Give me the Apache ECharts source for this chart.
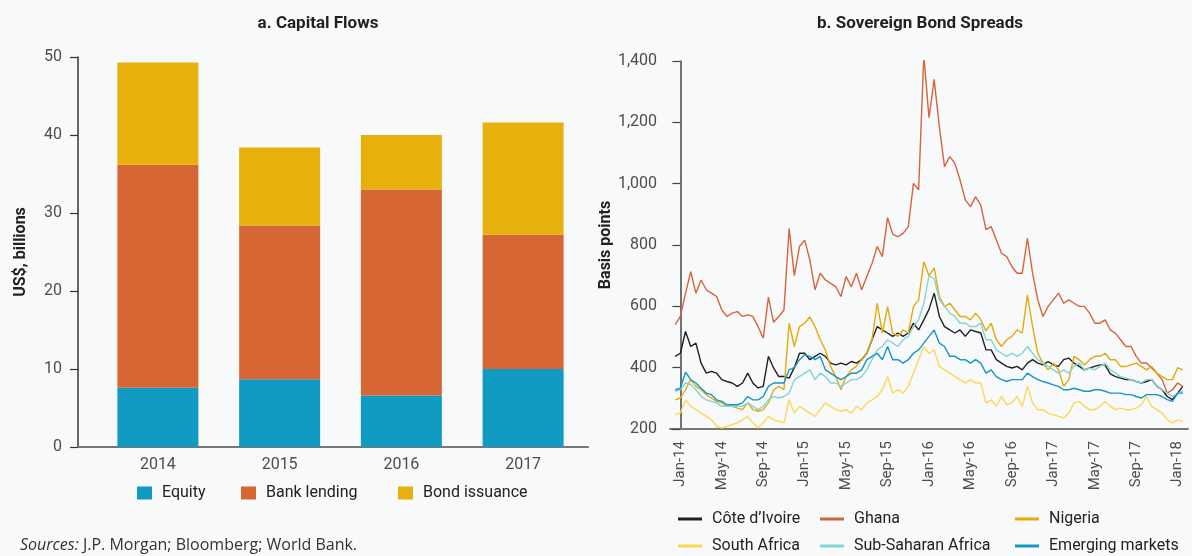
<!DOCTYPE html>
<html>
<head>
<meta charset="utf-8">
<title>Capital Flows and Sovereign Bond Spreads</title>
<script src="https://cdn.jsdelivr.net/npm/echarts@6.0.0/dist/echarts.min.js"></script>
<style>
  html, body { margin: 0; padding: 0; background: #f7f9fb; }
  #chart { width: 1192px; height: 556px; }
</style>
</head>
<body>
<div id="chart"></div>
<script>
// panel a: capital flows, US$ billions
const years = ['2014', '2015', '2016', '2017'];
const equity = [7.6, 8.7, 6.6, 10.0];
const bankLending = [28.6, 19.7, 26.4, 17.2];
const bondIssuance = [13.1, 10.0, 7.0, 14.4];

// panel b: sovereign bond spreads, basis points
// one value every half month, first one at mid-December 2013 (month -0.5, 0 = Jan-14)
const firstMonth = -0.5;
const monthStep = 0.5;
const tickMonths = [0, 4, 8, 12, 16, 20, 24, 28, 32, 36, 40, 44, 48];
const tickNames = ['Jan', 'May', 'Sep'];

const coteDIvoire = [
  437, 447, 518, 469, 480, 415, 382, 388, 382, 361,
  355, 350, 339, 350, 382, 350, 334, 339, 437, 399,
  371, 371, 366, 400, 447, 447, 426, 437, 447, 437,
  415, 409, 415, 409, 420, 415, 426, 447, 491, 534,
  523, 513, 502, 513, 502, 513, 545, 523, 556, 590,
  643, 567, 534, 523, 513, 523, 502, 523, 518, 513,
  458, 458, 426, 415, 404, 399, 404, 393, 415, 426,
  415, 409, 420, 409, 404, 426, 431, 415, 404, 393,
  399, 404, 409, 409, 380, 371, 366, 361, 361, 355,
  350, 355, 361, 339, 328, 306, 296, 317, 339
];
const ghana = [
  540, 567, 643, 713, 643, 686, 654, 643, 632, 588,
  567, 578, 583, 567, 572, 567, 534, 496, 630, 548,
  567, 588, 854, 700, 795, 816, 751, 654, 708, 686,
  675, 664, 632, 697, 664, 708, 654, 697, 740, 795,
  762, 889, 835, 827, 838, 860, 1001, 980, 1418, 1215,
  1340, 1185, 1055, 1088, 1066, 1012, 947, 925, 957, 930,
  850, 860, 816, 773, 762, 730, 708, 708, 822, 708,
  621, 567, 600, 621, 643, 610, 621, 610, 600, 600,
  578, 545, 545, 556, 523, 512, 491, 469, 469, 437,
  415, 415, 399, 382, 361, 317, 328, 350, 339
];
const nigeria = [
  295, 301, 328, 361, 339, 328, 312, 301, 290, 285,
  274, 274, 268, 263, 285, 263, 258, 263, 285, 328,
  339, 328, 545, 469, 534, 545, 565, 534, 491, 458,
  404, 371, 328, 371, 393, 404, 426, 447, 491, 610,
  513, 599, 513, 502, 523, 513, 599, 621, 745, 700,
  725, 632, 599, 610, 589, 567, 567, 556, 578, 556,
  520, 545, 491, 469, 491, 502, 523, 513, 637, 534,
  447, 415, 393, 415, 393, 339, 361, 437, 426, 409,
  426, 437, 437, 447, 426, 426, 404, 404, 409, 415,
  404, 393, 404, 382, 371, 361, 361, 400, 393
];
const southAfrica = [
  247, 252, 295, 274, 263, 252, 241, 230, 209, 203,
  209, 214, 220, 230, 241, 220, 203, 220, 241, 230,
  225, 220, 295, 252, 274, 263, 252, 241, 263, 285,
  274, 263, 258, 263, 252, 274, 263, 285, 295, 306,
  328, 371, 317, 328, 317, 339, 382, 426, 469, 447,
  458, 404, 393, 382, 371, 361, 350, 361, 350, 350,
  285, 295, 274, 306, 279, 285, 306, 274, 339, 285,
  263, 263, 252, 247, 241, 236, 252, 285, 290, 274,
  263, 263, 274, 290, 274, 263, 268, 263, 263, 268,
  279, 306, 274, 263, 252, 230, 220, 230, 225
];
const subSaharanAfrica = [
  323, 328, 350, 345, 328, 306, 295, 290, 285, 274,
  274, 274, 274, 274, 285, 274, 263, 274, 295, 306,
  301, 306, 317, 361, 371, 382, 393, 361, 382, 371,
  350, 350, 339, 350, 361, 361, 371, 393, 426, 458,
  469, 491, 480, 469, 491, 502, 534, 556, 610, 700,
  690, 621, 600, 578, 567, 545, 545, 534, 534, 545,
  491, 491, 458, 447, 437, 447, 437, 447, 469, 447,
  426, 415, 404, 393, 382, 393, 382, 404, 415, 393,
  399, 393, 404, 415, 393, 382, 371, 366, 361, 355,
  350, 361, 361, 339, 328, 317, 306, 317, 323
];
const emergingMarkets = [
  328, 333, 385, 361, 350, 333, 317, 312, 295, 290,
  279, 279, 279, 285, 306, 295, 295, 306, 339, 350,
  350, 350, 393, 400, 426, 442, 437, 426, 437, 393,
  382, 371, 361, 371, 382, 382, 393, 426, 437, 447,
  426, 469, 426, 426, 415, 426, 447, 458, 480, 502,
  523, 480, 469, 437, 437, 426, 426, 415, 426, 415,
  382, 393, 371, 361, 355, 361, 361, 361, 382, 371,
  361, 355, 350, 344, 339, 328, 328, 333, 328, 323,
  323, 328, 328, 323, 317, 317, 317, 312, 312, 306,
  301, 312, 312, 312, 306, 296, 290, 317, 317
];

const FONT = 'Roboto, sans-serif';
const LABEL = { color: '#4d4d4d', fontFamily: FONT, fontSize: 16 };
const NAME = { fontFamily: FONT, fontSize: 16, fontWeight: 'bold', color: '#222' };
const TITLE = { fontFamily: FONT, fontSize: 17, fontWeight: 'bold', color: '#231f20' };
const LEGEND_TEXT = { color: '#222', fontFamily: FONT, fontSize: 16, lineHeight: 18, padding: [0, 0, 0, 5] };

// pair each reading with its month on the time axis
function byMonth(values) {
  return values.map((v, i) => [firstMonth + i * monthStep, v]);
}

function barLegend(name, left) {
  return {
    data: [name], left: left, top: 484, padding: 0, icon: 'rect',
    itemWidth: 15, itemHeight: 13, textStyle: LEGEND_TEXT, selectedMode: false
  };
}

function lineLegend(names, left) {
  return {
    data: names, left: left, top: 510, padding: 0, orient: 'vertical', itemGap: 9, icon: 'rect',
    itemWidth: 24, itemHeight: 3, textStyle: LEGEND_TEXT, selectedMode: false
  };
}

const lines = [
  ['Côte d\u2019Ivoire', coteDIvoire, '#231f20'],
  ['Ghana', ghana, '#d6643a'],
  ['Nigeria', nigeria, '#e5a90a'],
  ['South Africa', southAfrica, '#fdd853'],
  ['Sub-Saharan Africa', subSaharanAfrica, '#86d3d3'],
  ['Emerging markets', emergingMarkets, '#1597c3']
];

const bars = [
  ['Equity', equity, '#119ac2'],
  ['Bank lending', bankLending, '#d66735'],
  ['Bond issuance', bondIssuance, '#e6b00d']
];

const chart = echarts.init(document.getElementById('chart'), null, { renderer: 'canvas' });

chart.setOption({
  animation: false,
  backgroundColor: '#f7f9fb',
  title: [
    { text: 'a. Capital Flows', left: 318, top: 15, padding: 0, textAlign: 'center', textStyle: TITLE },
    { text: 'b. Sovereign Bond Spreads', left: 920, top: 15, padding: 0, textAlign: 'center', textStyle: TITLE },
    { text: '{i|Sources:} J.P. Morgan; Bloomberg; World Bank.', left: 20, top: 537, padding: 0,
      textStyle: {
        fontFamily: "'Open Sans', sans-serif", fontSize: 16, fontWeight: 'normal', color: '#333',
        rich: { i: { fontFamily: "'Open Sans', sans-serif", fontSize: 16, fontStyle: 'italic', color: '#333' } }
      } }
  ],
  legend: bars.map(([name], i) => barLegend(name, [137, 241, 398][i])).concat([
    lineLegend(['Côte d\u2019Ivoire', 'South Africa'], 678),
    lineLegend(['Ghana', 'Sub-Saharan Africa'], 820),
    lineLegend(['Nigeria', 'Emerging markets'], 1015)
  ]),
  grid: [
    // frame of panel a (axis lines, y ticks)
    { left: 78, top: 57, width: 510, height: 390 },
    // bar area of panel a, narrower than the frame
    { left: 97, top: 57, width: 487, height: 390 },
    // panel b
    { left: 670, top: 61, width: 518, height: 368 }
  ],
  xAxis: [
    {
      gridIndex: 0, type: 'value', min: 0, max: 1,
      axisLine: { lineStyle: { color: '#777', width: 2 } },
      axisTick: { show: false }, axisLabel: { show: false }, splitLine: { show: false }
    },
    {
      gridIndex: 1, type: 'category', data: years,
      axisLine: { show: false }, axisTick: { show: false },
      axisLabel: Object.assign({}, LABEL, { margin: 10 })
    },
    {
      gridIndex: 2, type: 'value', min: -1, max: 49,
      axisLine: { lineStyle: { color: '#777', width: 2 } },
      axisTick: { show: false },
      splitLine: { show: false },
      axisLabel: Object.assign({}, LABEL, {
        fontSize: 15, rotate: 90, margin: 12, customValues: tickMonths,
        formatter: v => tickNames[(v / 4) % 3] + '-' + (14 + Math.floor(v / 12))
      })
    }
  ],
  yAxis: [
    {
      gridIndex: 0, type: 'value', min: 0, max: 50, interval: 10,
      name: 'US$, billions', nameLocation: 'middle', nameGap: 49, nameTextStyle: NAME,
      axisLine: { show: true, lineStyle: { color: '#333', width: 1.5 } },
      axisTick: { show: true, length: 8, lineStyle: { color: '#333', width: 1.2 } },
      splitLine: { show: false },
      axisLabel: Object.assign({}, LABEL, { margin: 16 })
    },
    {
      gridIndex: 1, type: 'value', min: 0, max: 50, show: false
    },
    {
      gridIndex: 2, type: 'value', min: 200, max: 1400, interval: 200,
      name: 'Basis points', nameLocation: 'middle', nameGap: 48, nameTextStyle: NAME,
      axisLine: { show: true, lineStyle: { color: '#444', width: 1.5 } },
      axisTick: { show: true, length: 8, lineStyle: { color: '#444', width: 1.2 } },
      splitLine: { show: false },
      axisLabel: Object.assign({}, LABEL, { margin: 13, formatter: v => v.toLocaleString('en-US') })
    }
  ],
  series: bars.map(([name, values, color]) => ({
    name: name, type: 'bar', stack: 'flows', barWidth: 81, xAxisIndex: 1, yAxisIndex: 1,
    itemStyle: { color: color }, data: values
  })).concat(lines.map(([name, values, color]) => ({
    name: name, type: 'line', xAxisIndex: 2, yAxisIndex: 2,
    showSymbol: false, symbol: 'none',
    lineStyle: { color: color, width: 1.4 }, itemStyle: { color: color },
    data: byMonth(values)
  })))
});
</script>
</body>
</html>
